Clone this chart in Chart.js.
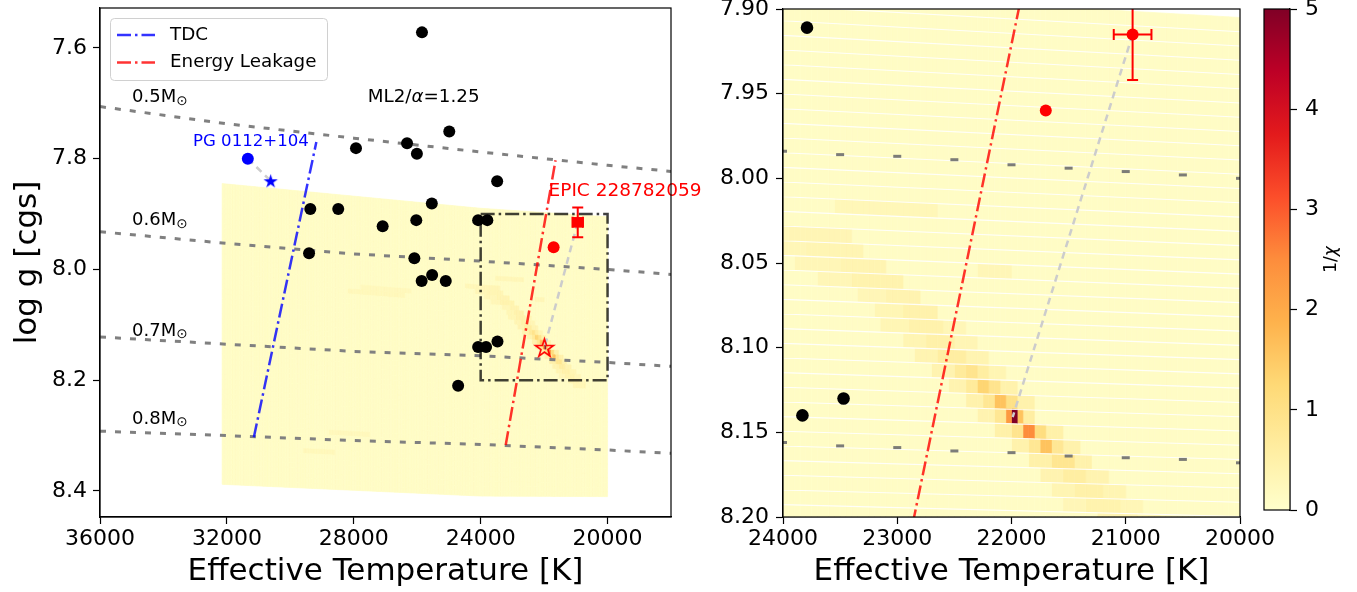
<!DOCTYPE html>
<html lang="en">
<head>
<meta charset="utf-8">
<title>Teff - log g</title>
<script src="https://cdn.jsdelivr.net/npm/chart.js@4.4.1/dist/chart.umd.min.js"></script>
<style>
  html, body { margin: 0; padding: 0; background: #fff; }
  #wrap { position: relative; width: 1357px; height: 592px; overflow: hidden; }
  #wrap canvas { position: absolute; top: 0; }
</style>
</head>
<body>
<div id="wrap">
  <canvas id="left" width="720" height="592" style="left:0px"></canvas>
  <canvas id="right" width="600" height="592" style="left:690px"></canvas>
  <canvas id="cbar" width="107" height="592" style="left:1250px"></canvas>
</div>
<script>
// ---- values ----
const blackTeff = [25850, 24990, 27930, 26320, 26010, 23480, 29370, 28490, 25540, 27090, 26030,
                   24080, 23790, 29410, 26090, 25530, 25860, 25100, 24080, 23830, 23470, 24710];
const blackLogg = [7.572, 7.751, 7.781, 7.772, 7.791, 7.841, 7.891, 7.891, 7.881, 7.922, 7.911,
                   7.911, 7.911, 7.971, 7.980, 8.010, 8.021, 8.021, 8.140, 8.140, 8.130, 8.210];

// PG 0112+104: observed, then best model
const pgTeff = [31340, 30620];
const pgLogg = [7.80, 7.84];

// EPIC 228782059
const epicSpecTeff = 20940, epicSpecLogg = 7.915, epicTeffErr = 165, epicLoggErr = 0.027;
const epicPhotTeff = 21700, epicPhotLogg = 7.960;
const epicFitTeff = 21990, epicFitLogg = 8.141;

// boundaries
const tdcTeff = [31150, 29180], tdcLogg = [8.303, 7.770];
const leakTeff = [23210, 21640], leakLogg = [8.317, 7.803];
const boxTeff = [24000, 20000, 20000, 24000, 24000];
const boxLogg = [7.90, 7.90, 8.20, 8.20, 7.90];

// mass tracks
const massLabels = ['0.5', '0.6', '0.7', '0.8'];
const massLabelLogg = [7.689, 7.911, 8.111, 8.270];
const trackTeff = [36000, 32000, 28000, 24000, 20000, 18000];
const track05 = [7.706, 7.737, 7.763, 7.788, 7.812, 7.823];
const track06 = [7.932, 7.953, 7.972, 7.985, 8.000, 8.009];
const track07 = [8.122, 8.135, 8.148, 8.156, 8.168, 8.175];
const track08 = [8.292, 8.300, 8.309, 8.316, 8.326, 8.332];
// track grid points seen in the zoomed panel
const zoomTeff = [24000, 23500, 23000, 22500, 22000, 21500, 21000, 20500, 20000];
const zoom06 = [7.984, 7.986, 7.987, 7.989, 7.992, 7.994, 7.996, 7.998, 8.000];
const zoom07 = [8.156, 8.158, 8.159, 8.161, 8.162, 8.164, 8.165, 8.166, 8.168];

// 1/chi map: background level and the brighter cells (Teff from, Teff to, log g, value)
const heatBg = 0.1;
const hotTeffLo = [21940, 21990, 21890, 22040, 21790, 22140,
                   21790, 21890, 21700, 21990, 21550,
                   21640, 21740, 21540, 21840, 21400,
                   21450, 21650, 21300,
                   21350, 21550, 21150,
                   21200, 21450, 21000,
                   21050, 21350, 20850,
                   20900, 20700,
                   20700,
                   22030, 21930, 22130, 22230, 21800,
                   22180, 22080, 22290, 22390, 21950,
                   22280, 22380, 22180, 22500, 22050,
                   22400, 22650, 22200,
                   22500, 22750, 22300,
                   22600, 22900, 22400,
                   22650, 22950,
                   22800, 23100,
                   22950, 23400,
                   23100, 23500,
                   23300, 23800,
                   23400, 23950,
                   21990, 22630, 26400, 26200, 28600, 27500];
const hotTeffHi = [21990, 22040, 21940, 22140, 21890, 22300,
                   21890, 21990, 21790, 22150, 21700,
                   21740, 21840, 21640, 22000, 21540,
                   21650, 21850, 21450,
                   21550, 21750, 21350,
                   21450, 21650, 21200,
                   21350, 21550, 21050,
                   21250, 20900,
                   21100,
                   22130, 22030, 22230, 22400, 21930,
                   22290, 22180, 22390, 22550, 22080,
                   22380, 22500, 22280, 22700, 22180,
                   22650, 22850, 22400,
                   22750, 22950, 22500,
                   22900, 23150, 22600,
                   22950, 23200,
                   23100, 23350,
                   23400, 23700,
                   23500, 23900,
                   23800, 24200,
                   23950, 24500,
                   22280, 23530, 28200, 27800, 29600, 28800];
const hotLogg = [8.1405, 8.1405, 8.1405, 8.1405, 8.1405, 8.1405,
                 8.150, 8.150, 8.150, 8.150, 8.150,
                 8.158, 8.158, 8.158, 8.158, 8.158,
                 8.167, 8.167, 8.167,
                 8.175, 8.175, 8.175,
                 8.184, 8.184, 8.184,
                 8.193, 8.193, 8.193,
                 8.202, 8.202,
                 8.211,
                 8.132, 8.132, 8.132, 8.132, 8.132,
                 8.123, 8.123, 8.123, 8.123, 8.123,
                 8.114, 8.114, 8.114, 8.114, 8.114,
                 8.105, 8.105, 8.105,
                 8.097, 8.097, 8.097,
                 8.088, 8.088, 8.088,
                 8.079, 8.079,
                 8.070, 8.070,
                 8.062, 8.062,
                 8.053, 8.053,
                 8.044, 8.044,
                 8.035, 8.035,
                 8.057, 8.017, 8.045, 8.036, 8.330, 8.300];
const hotVal = [5.0, 2.3, 1.6, 0.8, 0.6, 0.4,
                2.5, 0.9, 1.1, 0.5, 0.5,
                1.6, 0.8, 0.8, 0.45, 0.45,
                0.85, 0.5, 0.45,
                0.6, 0.4, 0.4,
                0.5, 0.35, 0.35,
                0.42, 0.3, 0.3,
                0.38, 0.28,
                0.32,
                1.6, 1.0, 0.8, 0.45, 0.45,
                1.3, 0.9, 0.7, 0.4, 0.45,
                0.9, 0.7, 0.6, 0.4, 0.35,
                0.6, 0.38, 0.38,
                0.5, 0.35, 0.33,
                0.45, 0.32, 0.3,
                0.45, 0.32,
                0.4, 0.3,
                0.42, 0.3,
                0.38, 0.3,
                0.35, 0.3,
                0.33, 0.28,
                0.3, 0.28, 0.26, 0.24, 0.25, 0.24];

// ticks
const leftTempTicks = [36000, 32000, 28000, 24000, 20000];
const leftLoggTicks = [7.6, 7.8, 8.0, 8.2, 8.4];
const rightTempTicks = [24000, 23000, 22000, 21000, 20000];
const rightLoggTicks = [7.90, 7.95, 8.00, 8.05, 8.10, 8.15, 8.20];
const cbarTicks = [0, 1, 2, 3, 4, 5];
const legendLabels = ['TDC', 'Energy Leakage'];

// ---- model grid geometry (rows are slanted in Teff) ----
const gridT0 = 20000, gridStep = 50, gridCols = 243, gridRows = 60;
const edgeNodeT = [20000, 24000, 32150];
const edgeTop = [7.905, 7.8896, 7.845];
const edgeStep = [0.00842, 0.00866, 0.00905];

function rowEdge(r, t) {
  const e = edgeTop.map((v, i) => v + r * edgeStep[i]);
  if (t <= edgeNodeT[1]) return e[0] + (t - edgeNodeT[0]) / (edgeNodeT[1] - edgeNodeT[0]) * (e[1] - e[0]);
  return e[1] + (t - edgeNodeT[1]) / (edgeNodeT[2] - edgeNodeT[1]) * (e[2] - e[1]);
}

const heatGrid = [];
for (let r = 0; r < gridRows; r++) heatGrid.push(new Array(gridCols).fill(heatBg));
hotVal.forEach((v, k) => {
  const tm = (hotTeffLo[k] + hotTeffHi[k]) / 2;
  let r = 0;
  while (r < gridRows - 1 && rowEdge(r + 1, tm) <= hotLogg[k]) r++;
  for (let c = 0; c < gridCols; c++) {
    const tc = gridT0 + (c + 0.5) * gridStep;
    if (tc >= hotTeffLo[k] && tc < hotTeffHi[k]) heatGrid[r][c] = Math.max(heatGrid[r][c], v);
  }
});

const ylorrd = [[255,255,204],[255,237,160],[254,217,118],[254,178,76],[253,141,60],
                [252,78,42],[227,26,28],[189,0,38],[128,0,38]];
const cmapMax = 5;
function heatColor(v) {
  const f = Math.max(0, Math.min(1, v / cmapMax)) * 8;
  const i = Math.min(7, Math.floor(f)), t = f - i;
  const a = ylorrd[i], b = ylorrd[i + 1];
  return 'rgb(' + a.map((c, k) => Math.round(c + (b[k] - c) * t)).join(',') + ')';
}

// ---- helpers ----
Chart.defaults.font.family = "'DejaVu Sans', sans-serif";
Chart.defaults.color = '#000';
const FONT = "'DejaVu Sans', sans-serif";
const dashDot = [14, 4, 2.5, 4];
const blueLine = 'rgba(0,0,255,0.8)', redLine = 'rgba(255,0,0,0.8)';

function pairs(ts, gs) { return ts.map((t, i) => ({x: t, y: gs[i]})); }

function lineSet(ts, gs, color, width, dash, order) {
  return {data: pairs(ts, gs), showLine: true, borderColor: color, borderWidth: width,
          borderDash: dash, pointRadius: 0, pointHoverRadius: 0, fill: false, order: order, clip: 0};
}
function markSet(ts, gs, extra) {
  return Object.assign({data: pairs(ts, gs), showLine: false, pointRadius: 6, pointHoverRadius: 6,
                        pointBorderWidth: 0, order: 1, clip: 0}, extra);
}
function starImage(size, fill, stroke, lw) {
  const c = document.createElement('canvas');
  c.width = c.height = size + 4;
  const g = c.getContext('2d');
  const cx = c.width / 2, cy = c.height / 2 + size * 0.05, R = size / 2, r = R * 0.382;
  g.beginPath();
  for (let i = 0; i < 10; i++) {
    const ang = -Math.PI / 2 + i * Math.PI / 5, rad = i % 2 ? r : R;
    g.lineTo(cx + rad * Math.cos(ang), cy + rad * Math.sin(ang));
  }
  g.closePath();
  if (fill) { g.fillStyle = fill; g.fill(); }
  if (stroke) { g.strokeStyle = stroke; g.lineWidth = lw; g.lineJoin = 'miter'; g.stroke(); }
  return c;
}

function xAxis(min, max, vals) {
  const sorted = vals.slice().sort((a, b) => a - b);
  return {
    type: 'linear', reverse: true, min: min, max: max,
    afterBuildTicks: s => { s.ticks = sorted.map(v => ({value: v})); },
    afterFit: s => { s.height = 75; s.paddingLeft = 0; s.paddingRight = 0; },
    ticks: {font: {size: 22}, color: '#000', padding: 2, autoSkip: false, maxRotation: 0,
            callback: v => String(v)},
    grid: {drawOnChartArea: false, tickLength: 7, tickColor: '#000', tickWidth: 1.2},
    border: {color: '#000', width: 1.2},
    title: {display: true, text: 'Effective Temperature [K]', font: {size: 31}, color: '#000',
            padding: {top: 0, bottom: 1.4}}
  };
}
function yAxis(min, max, vals, digits, width, pad, title) {
  const sorted = vals.slice().sort((a, b) => a - b);
  return {
    type: 'linear', reverse: true, min: min, max: max,
    afterBuildTicks: s => { s.ticks = sorted.map(v => ({value: v})); },
    afterFit: s => { s.width = width; s.paddingTop = 0; s.paddingBottom = 0; },
    ticks: {font: {size: 22}, color: '#000', padding: pad, autoSkip: false, callback: v => v.toFixed(digits)},
    grid: {drawOnChartArea: false, tickLength: 7, tickColor: '#000', tickWidth: 1.2},
    border: {color: '#000', width: 1.2},
    title: title ? {display: true, text: title, font: {size: 31}, color: '#000', padding: {top: 9.4, bottom: 0}}
                 : {display: false}
  };
}

// ---- plugins ----
function heatPlugin(edges) {
  return {
    id: 'heat',
    beforeDatasetsDraw(chart) {
      const {ctx, chartArea: a, scales: {x, y}} = chart;
      ctx.save();
      ctx.beginPath(); ctx.rect(a.left, a.top, a.right - a.left, a.bottom - a.top); ctx.clip();
      ctx.lineWidth = 0.7;
      for (let c = 0; c < gridCols; c++) {
        const t0 = gridT0 + c * gridStep, t1 = t0 + gridStep;
        if (t1 <= x.min || t0 >= x.max) continue;
        const x0 = x.getPixelForValue(t0), x1 = x.getPixelForValue(t1);
        for (let r = 0; r < gridRows; r++) {
          const col = heatColor(heatGrid[r][c]);
          ctx.fillStyle = col; ctx.strokeStyle = col;
          ctx.beginPath();
          ctx.moveTo(x0, y.getPixelForValue(rowEdge(r, t0)));
          ctx.lineTo(x1, y.getPixelForValue(rowEdge(r, t1)));
          ctx.lineTo(x1, y.getPixelForValue(rowEdge(r + 1, t1)));
          ctx.lineTo(x0, y.getPixelForValue(rowEdge(r + 1, t0)));
          ctx.closePath(); ctx.fill(); ctx.stroke();
        }
      }
      if (edges) {
        ctx.strokeStyle = 'rgba(255,255,255,0.9)'; ctx.lineWidth = 1.1;
        for (let r = 1; r < gridRows; r++) {
          ctx.beginPath();
          edgeNodeT.forEach((t, i) => {
            const px = x.getPixelForValue(t), py = y.getPixelForValue(rowEdge(r, t));
            if (i) ctx.lineTo(px, py); else ctx.moveTo(px, py);
          });
          ctx.stroke();
        }
      }
      ctx.restore();
    }
  };
}

const errPlugin = {
  id: 'errbars',
  beforeDatasetDraw(chart, args) {
    if (!chart.data.datasets[args.index].errbar) return;
    const {ctx, chartArea: a, scales: {x, y}} = chart;
    const px = x.getPixelForValue(epicSpecTeff), py = y.getPixelForValue(epicSpecLogg);
    const xl = x.getPixelForValue(epicSpecTeff + epicTeffErr), xr = x.getPixelForValue(epicSpecTeff - epicTeffErr);
    const yt = y.getPixelForValue(epicSpecLogg - epicLoggErr), yb = y.getPixelForValue(epicSpecLogg + epicLoggErr);
    const cap = 5.5;
    ctx.save();
    ctx.beginPath(); ctx.rect(a.left, a.top, a.right - a.left, a.bottom - a.top); ctx.clip();
    ctx.strokeStyle = 'red'; ctx.lineWidth = 2;
    ctx.beginPath();
    ctx.moveTo(xl, py); ctx.lineTo(xr, py);
    ctx.moveTo(px, yt); ctx.lineTo(px, yb);
    ctx.moveTo(xl, py - cap); ctx.lineTo(xl, py + cap);
    ctx.moveTo(xr, py - cap); ctx.lineTo(xr, py + cap);
    ctx.moveTo(px - cap, yt); ctx.lineTo(px + cap, yt);
    ctx.moveTo(px - cap, yb); ctx.lineTo(px + cap, yb);
    ctx.stroke();
    ctx.restore();
  }
};

function notePlugin(items) {
  return {
    id: 'notes',
    afterDatasetsDraw(chart) {
      const {ctx, scales: {x, y}} = chart;
      ctx.save(); ctx.textBaseline = 'middle'; ctx.textAlign = 'left';
      items.forEach(it => {
        let px = x.getPixelForValue(it.t);
        const py = y.getPixelForValue(it.g);
        it.segs.forEach(s => {
          ctx.font = (s.style || '') + ' ' + s.size + 'px ' + FONT;
          ctx.fillStyle = it.color;
          ctx.fillText(s.text, px, py + (s.dy || 0));
          px += ctx.measureText(s.text).width;
        });
      });
      ctx.restore();
    }
  };
}

const framePlugin = {
  id: 'frame',
  afterDraw(chart) {
    const {ctx, chartArea: a} = chart;
    ctx.save(); ctx.strokeStyle = '#000'; ctx.lineWidth = 1.2;
    ctx.strokeRect(a.left, a.top, a.right - a.left, a.bottom - a.top);
    ctx.restore();
  }
};

const keyPlugin = {
  id: 'key',
  afterDraw(chart) {
    const {ctx, chartArea: a} = chart;
    const bx = a.left + 10.5, by = a.top + 10.5, bw = 217, bh = 62, rr = 4;
    ctx.save();
    ctx.beginPath();
    ctx.moveTo(bx + rr, by); ctx.arcTo(bx + bw, by, bx + bw, by + bh, rr);
    ctx.arcTo(bx + bw, by + bh, bx, by + bh, rr); ctx.arcTo(bx, by + bh, bx, by, rr);
    ctx.arcTo(bx, by, bx + bw, by, rr); ctx.closePath();
    ctx.fillStyle = 'rgba(255,255,255,0.85)'; ctx.fill();
    ctx.strokeStyle = '#d0d0d0'; ctx.lineWidth = 1; ctx.stroke();
    const cols = [blueLine, redLine];
    legendLabels.forEach((lab, i) => {
      const yy = by + 16.5 + i * 27.5;
      ctx.setLineDash(dashDot); ctx.strokeStyle = cols[i]; ctx.lineWidth = 2.5;
      ctx.beginPath(); ctx.moveTo(bx + 6.5, yy); ctx.lineTo(bx + 44.5, yy); ctx.stroke();
      ctx.setLineDash([]);
      ctx.fillStyle = '#000'; ctx.font = '18.3px ' + FONT; ctx.textBaseline = 'middle';
      ctx.fillText(lab, bx + 59.5, yy);
    });
    ctx.restore();
  }
};

const cbarLabel = {
  id: 'cblabel',
  afterDraw(chart) {
    const {ctx, chartArea: a} = chart;
    ctx.save();
    ctx.translate(a.right + 42, (a.top + a.bottom) / 2);
    ctx.rotate(-Math.PI / 2);
    ctx.textBaseline = 'middle'; ctx.fillStyle = '#000';
    ctx.font = '17px ' + FONT; const w1 = ctx.measureText('1/').width;
    ctx.font = 'italic 17px ' + FONT; const w2 = ctx.measureText('χ').width;
    let px = -(w1 + w2) / 2;
    ctx.font = '17px ' + FONT; ctx.fillText('1/', px, 0);
    ctx.font = 'italic 17px ' + FONT; ctx.fillText('χ', px + w1, 0);
    ctx.restore();
  }
};

// ---- left panel ----
const leftNotes = [
  {t: 33070, g: 7.770, color: 'blue', segs: [{text: 'PG 0112+104', size: 16.6}]},
  {t: 21860, g: 7.858, color: 'red', segs: [{text: 'EPIC 228782059', size: 18.5}]},
  {t: 27560, g: 7.690, color: '#000', segs: [{text: 'ML2/', size: 18.3}, {text: 'α', size: 18.3, style: 'italic'},
                                             {text: '=1.25', size: 18.3}]}
].concat(massLabels.map((m, i) => ({t: 34990, g: massLabelLogg[i], color: '#000',
  segs: [{text: m + 'M', size: 18}, {text: '⊙', size: 13.5, dy: 4}]})));

const grayDots = '#808080';
new Chart(document.getElementById('left'), {
  type: 'scatter',
  data: {datasets: [
    markSet([epicSpecTeff], [epicSpecLogg], {pointStyle: 'rect', pointRadius: 7.5, backgroundColor: 'red', errbar: true, order: 0}),
    markSet([epicPhotTeff], [epicPhotLogg], {backgroundColor: 'red'}),
    markSet([epicFitTeff], [epicFitLogg], {pointStyle: starImage(19, null, 'red', 1.6)}),
    markSet([pgTeff[0]], [pgLogg[0]], {backgroundColor: 'blue'}),
    markSet([pgTeff[1]], [pgLogg[1]], {pointStyle: starImage(15, 'blue', null, 0)}),
    markSet(blackTeff, blackLogg, {backgroundColor: '#000'}),
    lineSet(boxTeff, boxLogg, 'rgba(0,0,0,0.75)', 2.5, dashDot, 3),
    lineSet(tdcTeff, tdcLogg, blueLine, 2.5, dashDot, 4),
    lineSet(leakTeff, leakLogg, redLine, 2.5, dashDot, 4),
    lineSet([epicSpecTeff, epicFitTeff], [epicSpecLogg, epicFitLogg], '#cccccc', 2.5, [7, 5], 5),
    lineSet(pgTeff, pgLogg, '#cccccc', 2.5, [7, 5], 5),
    lineSet(trackTeff, track05, grayDots, 3, [6, 9], 6),
    lineSet(trackTeff, track06, grayDots, 3, [6, 9], 6),
    lineSet(trackTeff, track07, grayDots, 3, [6, 9], 6),
    lineSet(trackTeff, track08, grayDots, 3, [6, 9], 6)
  ]},
  options: {
    responsive: false, animation: false, events: [],
    layout: {padding: {left: 0, right: 49, top: 8, bottom: 0}},
    plugins: {legend: {display: false}, tooltip: {enabled: false}},
    scales: {
      x: xAxis(18000, 36000, leftTempTicks),
      y: yAxis(7.528, 8.447, leftLoggTicks, 1, 100, 6, 'log g [cgs]')
    }
  },
  plugins: [heatPlugin(false), errPlugin, notePlugin(leftNotes), framePlugin, keyPlugin]
});

// ---- right panel (zoom) ----
new Chart(document.getElementById('right'), {
  type: 'scatter',
  data: {datasets: [
    markSet([epicSpecTeff], [epicSpecLogg], {backgroundColor: 'red', errbar: true, order: 0}),
    markSet([epicPhotTeff], [epicPhotLogg], {backgroundColor: 'red'}),
    markSet(blackTeff, blackLogg, {backgroundColor: '#000', pointRadius: 6.3}),
    markSet(zoomTeff, zoom06, {pointStyle: 'line', pointRadius: 4, borderColor: 'rgba(110,110,110,0.9)', pointBorderWidth: 3, order: 3}),
    markSet(zoomTeff, zoom07, {pointStyle: 'line', pointRadius: 4, borderColor: 'rgba(110,110,110,0.9)', pointBorderWidth: 3, order: 3}),
    lineSet(leakTeff, leakLogg, redLine, 2.5, dashDot, 4),
    lineSet([epicSpecTeff, epicFitTeff], [epicSpecLogg, epicFitLogg], '#cccccc', 2.5, [7, 5], 5)
  ]},
  options: {
    responsive: false, animation: false, events: [],
    layout: {padding: {left: 0, right: 50, top: 8, bottom: 0}},
    plugins: {legend: {display: false}, tooltip: {enabled: false}},
    scales: {
      x: xAxis(20000, 24000, rightTempTicks),
      y: yAxis(7.90, 8.20, rightLoggTicks, 2, 93, 7, null)
    }
  },
  plugins: [heatPlugin(true), errPlugin, framePlugin]
});

// ---- colour bar ----
function cbarGradient(chart) {
  const a = chart.chartArea;
  if (!a) return null;
  const g = chart.ctx.createLinearGradient(0, a.bottom, 0, a.top);
  ylorrd.forEach((c, i) => g.addColorStop(i / 8, 'rgb(' + c.join(',') + ')'));
  return g;
}
new Chart(document.getElementById('cbar'), {
  type: 'bar',
  data: {labels: ['1/χ'], datasets: [{
    data: [[cbarTicks[0], cbarTicks[cbarTicks.length - 1]]],
    backgroundColor: c => cbarGradient(c.chart),
    borderWidth: 0, barPercentage: 1, categoryPercentage: 1
  }]},
  options: {
    responsive: false, animation: false, events: [],
    layout: {padding: {left: 14, right: 0, top: 9, bottom: 82}},
    plugins: {legend: {display: false}, tooltip: {enabled: false}},
    scales: {
      x: {display: false},
      y: {
        position: 'right', min: cbarTicks[0], max: cbarTicks[cbarTicks.length - 1],
        afterBuildTicks: s => { s.ticks = cbarTicks.map(v => ({value: v})); },
        afterFit: s => { s.width = 67; s.paddingTop = 0; s.paddingBottom = 0; },
        ticks: {font: {size: 22}, color: '#000', padding: 8, autoSkip: false, callback: v => String(v)},
        grid: {drawOnChartArea: false, tickLength: 7, tickColor: '#000', tickWidth: 1.2},
        border: {color: '#000', width: 1.2}
      }
    }
  },
  plugins: [framePlugin, cbarLabel]
});
</script>
</body>
</html>
